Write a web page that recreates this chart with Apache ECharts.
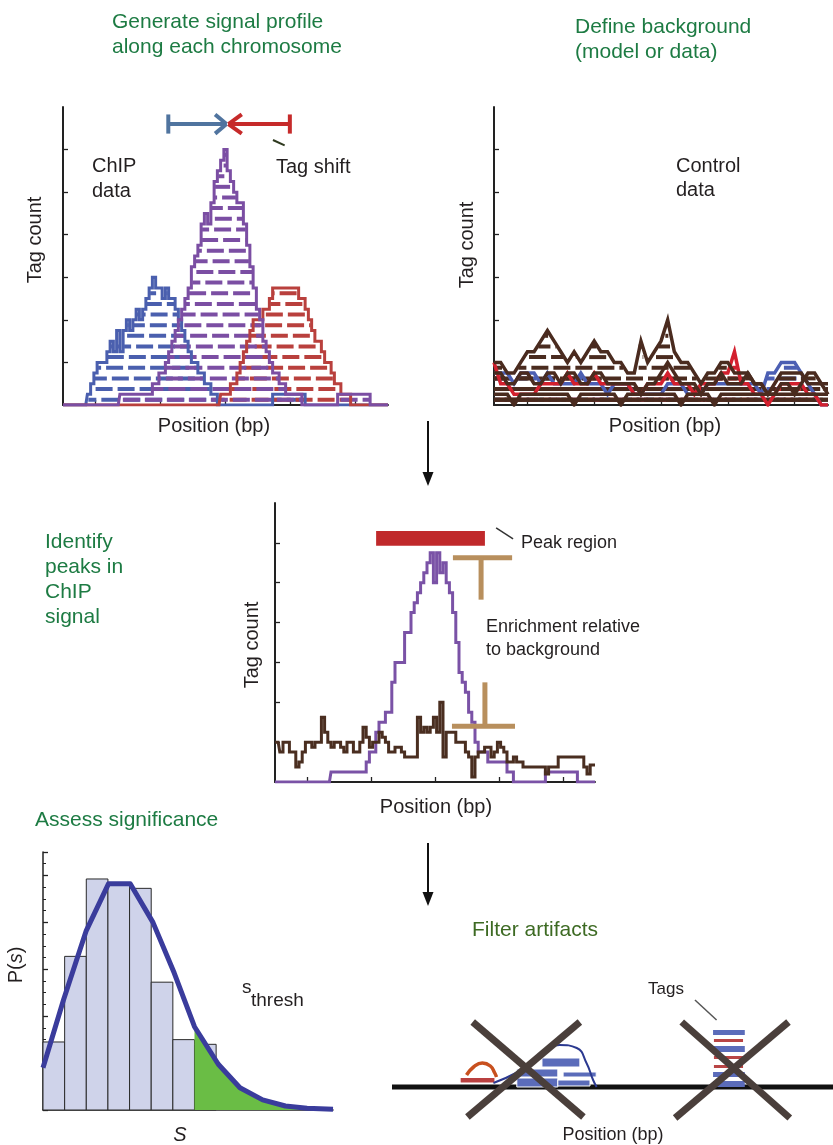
<!DOCTYPE html>
<html><head><meta charset="utf-8">
<script src="https://cdn.jsdelivr.net/npm/echarts@6/dist/echarts.min.js"></script>
<style>html,body{margin:0;padding:0;background:#fff}#c{width:833px;height:1145px}</style>
</head><body><div id="c"></div>
<script>
// ---------------- DATA ----------------
// Panel 1: ChIP tag profiles (tag count at positions 0..100)
const chipBlue = [0,0,0,0,0,0, 0,0,1,2,3,4,4,4,5,6, 5,7,5,7,8,7,8,9,8,9, 10,11,12,11,11,10,11,10,10,9, 8,7,6,5,4,4,3,3,2,2, 1,1,0,0,0,0,0,0,0,0, 0,0,0,0,0,0,0,0,0,1, 1,1,1,1,1,1,1,1,1,0, 0,0,0,0,0,0,0,0,0,0, 0,0,0,0,0,0,0,0,0,0, 0,0,0,0,0];
const chipPurple = [0,0,0,0,0,0,0,0,0,0,0,0,0,0,0,0,0,0, 1,1,1,1,1,1,1,1,1,1, 2,2,3,3,4,5,6,7,8,9, 10,11,13,14,15,17,18,17,19,21, 22,23,24,22,21,20,19,19,17,15, 13,11,9,8,6,5,4,3,3,2, 2,1,1,1,1,1,0,0,0,0, 0,0,0,0,0,0,0, 1,1,1,1,1,1,1,1,1,1, 0,0,0,0,0,0];
const chipRed = [0,0,0,0,0,0,0,0,0,0,0,0,0,0,0,0,0,0,0,0,0,0,0,0,0,0,0,0,0,0,0,0,0,0,0,0,0,0,0,0,0,0,0,0,0,0,0,0, 0,1,1,1,2,2,3,4,5,6, 7,8,8,8,9,9,10,11,11,11, 11,11,11,11,11,10,10,9,8,7, 6,6,5,4,4,3,2,2,1,1, 1,0,0,0,0,0,0,0,0,0,0,0,0];
// Panel 2: control profiles (positions 0,2,...,100)
const ctrlBrownA = [4,4,3,3,4,5,5,6,7,6, 5,4,5,4,5,6,5,5,4,4, 3,3,6,4,5,6,8,5,4,4, 3,2,3,3,4,4,3,3,3,2, 2,1,2,3,3,3,3,2,2,2, 2];
const ctrlBrownB = [3,3,2,2,3,3,2,2,3,3, 2,3,3,2,2,3,3,2,2,2, 2,2,1,2,2,3,4,3,2,2, 2,1,2,2,3,2,2,2,3,2, 2,1,1,2,2,1,2,3,3,2, 1];
const ctrlBrownC = [1,1,1,0,1,1,1,1,1,1, 1,1,0,1,1,1,1,1,1,0, 1,1,1,1,1,1,1,1,0,1, 1,1,1,0,1,1,1,1,1,1, 1,1,1,1,1,1,1,1,1,1, 1];
const ctrlRed = [4,2,2,1,1,1,1,2,2,2, 2,3,2,2,2,3,2,2,2,2, 2,1,1,2,2,2,3,2,2,2, 1,2,2,2,3,3,5,2,2,1, 1,0,1,2,2,2,2,1,1,0, 0];
const ctrlBlue = [3,3,3,2,3,3,3,2,3,2, 2,2,2,3,2,2,2,1,2,2, 2,1,1,1,1,1,2,2,2,1, 1,1,2,2,2,2,2,2,2,2, 1,3,3,4,4,4,3,2,1,0, 0];
// Panel 3: peak identification (positions 0..100)
const peakChip = [0,0,0,0,0,0,0,0,0,0,0,0,0,0,0,0,0,0, 1,1,1,1,1,1,1,1,1,1, 1,2,3,3,5,6,6,7,7,10, 12,12,12,15,15,17,18,19,20,21, 22,23,20,23,21,22,20,19,17,14, 11,10,9,7,6,4,3,3,3,2, 2,2,2,2,2,1,1,0,0,0, 0,0,0,0,0,0,0, 1,1,1,1,1,1,1,1,1,1, 0,0,0,0,0,0];
const peakControl = [4,4,3,4,4,3,3,1.5,2,3, 4,4,3.5,4,4,6.5,5,4,3.5,4, 4,3.5,3,4,4,3,3,4,5.5,4.5, 3.5,4,4,5,4.5,4,3,3,3.5,3.5, 3,2.5,2.5,2.5,2.5,6.5,5,5.5,5,5.5, 6.5,5,8,2.5,5,5,5,4,4,4, 3,2.5,0.5,2.5,3,3,3.5,3.5,2.5,3, 4,3.5,3,2,2,2.5,2,2,1.5,1.5, 1.5,1.5,1.5,1.5,1.5,0.8,1.5,1.5,1.5,2.5, 2.5,2.5,2.5,2.5,2.5,2.5,2.5,1.5,0.8,1.7,1.7];
// Panel 4: significance histogram
const histBins = [5.8, 13.1, 19.7, 19.3, 18.9, 10.9, 6.0, 5.6];
const curveX = [0, 0.95, 2, 3.03, 4.03, 5.08, 6.06, 7.0, 8.1, 9.1, 10.15, 11.2, 12.2, 13.4];
const curveY = [3.6, 9.4, 15.3, 19.3, 19.3, 16, 11.7, 7.1, 3.9, 1.9, 0.86, 0.34, 0.15, 0.06];
const threshIndex = 7;
// Tick positions
const posTicks = [10, 30, 50, 70, 90];
const countTicks = [4, 8, 12, 16, 20, 24];
const histXTicks = [0.5,1.5,2.5,3.5,4.5,5.5,6.5,7.5,8.5,9.5,10.5,11.5,12.5];
// Annotations (data coordinates)
const tagShiftBlue = [[32.4,26.4,50.3,26.4],[32.4,27.3,32.4,25.5],[46.8,27.3,50.3,26.4],[46.8,25.5,50.3,26.4]];
const tagShiftRed = [[50.9,26.4,69.8,26.4],[69.8,27.3,69.8,25.5],[55,27.3,50.9,26.4],[55,25.5,50.9,26.4]];
const tagShiftLeader = [[64.6,24.9,68.2,24.4]];
const peakRegion = [[31.6,23.7,65.6,25.2]];
const peakLeader = [[69.1,25.5,74.4,24.4]];
const enrichTop = [[55.6,22.5,74.1,22.5],[64.4,22.5,64.4,18.3]];
const enrichBottom = [[55.3,5.6,75,5.6],[65.6,10.0,65.6,5.6]];
// Panel 5: filter artifacts schematic
const genomeLine = [[0,0,100,0]];
const strandTagRed = [[15.4,0.37,23.4,0.97]];
const strandCurveRed = [[16.9,1.2],[18.5,2.0],[20.5,2.4],[22.3,2.1],[23.3,1.4],[23.7,1.0]];
const strandCurveBlue = [[23,0.4],[28.1,1.4],[33,2.8],[38,4.2],[41.9,3.9],[44.1,2.4],[45.6,0.7],[46.4,0]];
const strandTagsBlue = [[34,2.0,42.6,2.9],[28.3,1.0,37.6,1.8],[38.8,1.0,46.3,1.5],[28.3,0,37.6,0.9],[37.6,0.1,44.9,0.7]];
const stackBlue = [[72.8,5.2,80,5.7],[72.8,3.5,80,4.1],[72.8,1.0,80,1.5],[72.8,0,80,0.6]];
const stackRed = [[73,4.5,79.6,4.8],[73,2.8,79.6,3.1],[73,1.9,79.6,2.2]];
const crosses = [[18.3,6.5,43.4,-3.0],[42.6,6.5,17.1,-3.0],[65.7,6.5,90.2,-3.1],[89.9,6.5,64.2,-3.1]];
const tagsLeader = [[68.7,8.7,73.6,6.7]];

// ---------------- HELPERS ----------------
const FF = '"Liberation Sans", Arial, Helvetica, sans-serif';
const C_TXT = '#231f20';
function tagRows(vals, step) {
  const rows = [];
  const maxV = Math.max(...vals);
  for (let k = 1; k <= Math.floor(maxV); k++) {
    let start = -1;
    for (let i = 0; i <= vals.length; i++) {
      const on = i < vals.length && vals[i] >= k;
      if (on && start < 0) start = i;
      if (!on && start >= 0) {
        rows.push([Math.max(0, start*step - step/2 + 0.3), Math.min(100, (i-1)*step + step/2 - 0.3), k - 0.5, k]);
        start = -1;
      }
    }
  }
  return rows;
}
function tagSeries(rows, color, gi, z, phase) {
  return {type:'custom', xAxisIndex:gi, yAxisIndex:gi, data:rows, z:z, silent:true, animation:false,
    encode:{x:[0,1], y:2},
    renderItem:(p, api) => {
      const a = api.coord([api.value(0), api.value(2)]);
      const b = api.coord([api.value(1), api.value(2)]);
      const k = api.value(3);
      return {type:'line', shape:{x1:a[0], y1:a[1], x2:b[0], y2:b[1]},
        style:{stroke:color, lineWidth:4, lineDash:[17,5], lineDashOffset:((k*9 + phase) % 22)}};
    }};
}
function segs(data, color, width, gi, z, cap) {
  return {type:'custom', xAxisIndex:gi, yAxisIndex:gi, data:data, z:z, silent:true, animation:false, clip:false,
    encode:{x:[0,2], y:[1,3]},
    renderItem:(p, api) => {
      const a = api.coord([api.value(0), api.value(1)]);
      const b = api.coord([api.value(2), api.value(3)]);
      return {type:'line', shape:{x1:a[0], y1:a[1], x2:b[0], y2:b[1]},
        style:{stroke:color, lineWidth:width, lineCap:cap || 'butt'}};
    }};
}
function rects(data, fill, stroke, lw, gi, z) {
  return {type:'custom', xAxisIndex:gi, yAxisIndex:gi, data:data, z:z, silent:true, animation:false, clip:false,
    encode:{x:[0,2], y:[1,3]},
    renderItem:(p, api) => {
      const a = api.coord([api.value(0), api.value(3)]);
      const b = api.coord([api.value(2), api.value(1)]);
      return {type:'rect', shape:{x:a[0], y:a[1], width:b[0]-a[0], height:b[1]-a[1]},
        style:{fill:fill, stroke:stroke || null, lineWidth:lw || 0}};
    }};
}
function profile(vals, step, color, width, gi, z, stepMode) {
  return {type:'line', xAxisIndex:gi, yAxisIndex:gi, data:vals.map((v,i)=>[i*step, v]),
    step:stepMode === undefined ? 'middle' : stepMode, showSymbol:false, symbol:'none', silent:true, animation:false, z:z,
    lineStyle:{color:color, width:width, join:'miter'}};
}
function axisPair(gi, xmax, ymax, xt, yt, opts) {
  opts = opts || {};
  const line = {show:true, onZero:false, lineStyle:{color:'#222', width:opts.lw || 2}};
  const x = {gridIndex:gi, type:'value', min:0, max:xmax, axisLine:line,
    axisTick:{show:true, inside:true, length:opts.xtl || 5, customValues:xt, lineStyle:{color:'#222', width:1.3}},
    axisLabel:{show:false}, splitLine:{show:false}};
  const y = {gridIndex:gi, type:'value', min:0, max:ymax, axisLine:line,
    axisTick:{show:true, inside:true, length:5, lineStyle:{color:'#222', width:1.3}},
    axisLabel:{show:false}, splitLine:{show:false}};
  if (yt) y.axisTick.customValues = yt; else y.interval = opts.yint;
  if (opts.minor) { y.interval = opts.yint; y.minorTick = {show:true, splitNumber:4, length:3, lineStyle:{color:'#222', width:1}}; }
  return [x, y];
}
function T(text, x, y, size, opts) {
  opts = opts || {};
  return {type:'text', x:x, y:y, rotation:opts.rot || 0, z:100, silent:true,
    style:{text:text, fill:opts.color || C_TXT, font:(opts.italic ? 'italic ' : '') + size + 'px ' + FF,
      textAlign:opts.align || 'left', textVerticalAlign:'middle', rich:opts.rich}};
}

// ---------------- CHART ----------------
const C_BLUE = '#4a5fae', C_PURPLE = '#7b4ea3', C_RED = '#b9403d';
const C_BROWN = '#4a2b1f', C_CRED = '#d3202e', C_CBLUE = '#4c5fb3';
const GREEN = '#1d7b43';

const a0 = axisPair(0, 100, 28, posTicks, countTicks);
const a1 = axisPair(1, 100, 28, posTicks, countTicks);
const a2 = axisPair(2, 100, 28, posTicks, countTicks);
const a3 = axisPair(3, 13.4, 22, histXTicks, null, {lw:1.5, yint:4, minor:true, xtl:3});
const a4x = {gridIndex:4, type:'value', min:0, max:100, show:false};
const a4y = {gridIndex:4, type:'value', min:-4, max:11, show:false};

const series = [
  // Panel 1
  tagSeries(tagRows(chipBlue, 1), C_BLUE, 0, 2, 0),
  tagSeries(tagRows(chipRed, 1), C_RED, 0, 2, 5),
  tagSeries(tagRows(chipPurple, 1), C_PURPLE, 0, 2, 11),
  profile(chipBlue, 1, C_BLUE, 3, 0, 3),
  profile(chipRed, 1, C_RED, 3, 0, 3),
  profile(chipPurple, 1, C_PURPLE, 3, 0, 4),
  segs(tagShiftBlue, '#50749f', 4, 0, 5, 'butt'),
  segs(tagShiftRed, '#c62a2a', 4, 0, 5, 'butt'),
  segs(tagShiftLeader, '#2f3a1f', 2, 0, 5),
  // Panel 2
  tagSeries(tagRows(ctrlBlue, 2), C_CBLUE, 1, 2, 3),
  tagSeries(tagRows(ctrlRed, 2), C_CRED, 1, 2, 8),
  tagSeries(tagRows(ctrlBrownC, 2), C_BROWN, 1, 2, 14),
  tagSeries(tagRows(ctrlBrownB, 2), C_BROWN, 1, 2, 2),
  tagSeries(tagRows(ctrlBrownA, 2), C_BROWN, 1, 2, 17),
  profile(ctrlBlue, 2, C_CBLUE, 3.5, 1, 3, false),
  profile(ctrlRed, 2, C_CRED, 3.5, 1, 3, false),
  profile(ctrlBrownC, 2, C_BROWN, 3.5, 1, 4, false),
  profile(ctrlBrownB, 2, C_BROWN, 3.5, 1, 4, false),
  profile(ctrlBrownA, 2, C_BROWN, 3.5, 1, 4, false),
  // Panel 3
  profile(peakChip, 1, '#7a52a6', 3, 2, 3),
  profile(peakControl, 1, '#4a2e20', 3, 2, 4),
  rects(peakRegion, '#c0292b', null, 0, 2, 5),
  segs(peakLeader, '#333', 1.5, 2, 5),
  segs(enrichTop, '#b88f5d', 5, 2, 5),
  segs(enrichBottom, '#b88f5d', 5, 2, 5),
  // Panel 4
  rects(histBins.map((v,i)=>[i,0,i+1,v]), '#cfd3ea', '#2a2a2a', 1, 3, 2),
  {type:'line', xAxisIndex:3, yAxisIndex:3, data:curveX.map((x,i)=>[x,curveY[i]]).slice(threshIndex),
    showSymbol:false, symbol:'none', silent:true, animation:false, z:3,
    lineStyle:{width:0, color:'#6abd45'}, areaStyle:{color:'#6abd45', opacity:1}},
  {type:'line', xAxisIndex:3, yAxisIndex:3, data:curveX.map((x,i)=>[x,curveY[i]]),
    showSymbol:false, symbol:'none', silent:true, animation:false, z:4, clip:false,
    lineStyle:{width:5, color:'#3a3c9c', join:'round'}},
  // Panel 5
  segs(genomeLine, '#111', 5, 4, 2),
  rects(strandTagRed, '#b94040', '#ffffff', 1.5, 4, 3),
  {type:'line', xAxisIndex:4, yAxisIndex:4, data:strandCurveRed, smooth:true, showSymbol:false, symbol:'none',
    silent:true, animation:false, z:3, lineStyle:{color:'#c8501e', width:3.5}},
  {type:'line', xAxisIndex:4, yAxisIndex:4, data:strandCurveBlue, smooth:true, showSymbol:false, symbol:'none',
    silent:true, animation:false, z:3, lineStyle:{color:'#2b3990', width:2}},
  rects(strandTagsBlue, '#5b6cba', '#ffffff', 1, 4, 3),
  rects(stackBlue, '#5b6cba', null, 0, 4, 3),
  rects(stackRed, '#b94545', null, 0, 4, 3),
  segs(tagsLeader, '#555', 1.5, 4, 3),
  segs(crosses, '#4a3f3b', 7, 4, 6)
];

const arrows = [
  {type:'line', shape:{x1:428, y1:421, x2:428, y2:476}, style:{stroke:'#111', lineWidth:2}, z:100},
  {type:'polygon', shape:{points:[[422.5,472],[433.5,472],[428,486]]}, style:{fill:'#111'}, z:100},
  {type:'line', shape:{x1:428, y1:843, x2:428, y2:895}, style:{stroke:'#111', lineWidth:2}, z:100},
  {type:'polygon', shape:{points:[[422.5,892],[433.5,892],[428,906]]}, style:{fill:'#111'}, z:100}
];

const texts = [
  T('Generate signal profile', 112, 22, 21, {color:GREEN}),
  T('along each chromosome', 112, 47, 21, {color:GREEN}),
  T('Define background', 575, 27, 21, {color:GREEN}),
  T('(model or data)', 575, 52, 21, {color:GREEN}),
  T('ChIP', 92, 166, 20),
  T('data', 92, 191, 20),
  T('Tag shift', 276, 167, 20),
  T('Control', 676, 166, 20),
  T('data', 676, 190, 20),
  T('Tag count', 35, 240, 20, {rot:Math.PI/2, align:'center'}),
  T('Tag count', 467, 245, 20, {rot:Math.PI/2, align:'center'}),
  T('Tag count', 252, 645, 20, {rot:Math.PI/2, align:'center'}),
  T('Position (bp)', 214, 426, 20, {align:'center'}),
  T('Position (bp)', 665, 426, 20, {align:'center'}),
  T('Position (bp)', 436, 807, 20, {align:'center'}),
  T('Identify', 45, 542, 21, {color:GREEN}),
  T('peaks in', 45, 567, 21, {color:GREEN}),
  T('ChIP', 45, 592, 21, {color:GREEN}),
  T('signal', 45, 617, 21, {color:GREEN}),
  T('Peak region', 521, 543, 18),
  T('Enrichment relative', 486, 627, 18),
  T('to background', 486, 650, 18),
  T('Assess significance', 35, 820, 21, {color:GREEN}),
  T('{n|P(}{i|s}{n|)}', 16, 965, 20, {rot:Math.PI/2, align:'center',
     rich:{n:{font:'20px ' + FF, fill:C_TXT}, i:{font:'italic 20px ' + FF, fill:C_TXT}}}),
  T('s', 242, 988, 19),
  T('thresh', 251, 1001, 19),
  T('S', 180, 1135, 20, {italic:true, align:'center'}),
  T('Filter artifacts', 472, 930, 21, {color:'#3d6a23'}),
  T('Tags', 648, 989, 17),
  T('Position (bp)', 613, 1135, 18, {align:'center'})
];

const option = {
  backgroundColor:'#ffffff',
  animation:false,
  grid:[
    {left:63, top:107, width:325, height:298},
    {left:494, top:107, width:334, height:298},
    {left:275, top:503, width:320, height:279},
    {left:43, top:852, width:290, height:258},
    {left:392, top:977, width:441, height:150}
  ],
  xAxis:[a0[0], a1[0], a2[0], a3[0], a4x],
  yAxis:[a0[1], a1[1], a2[1], a3[1], a4y],
  series:series,
  graphic:[...arrows, ...texts]
};
const chart = echarts.init(document.getElementById('c'), null, {renderer:'canvas', width:833, height:1145});
chart.setOption(option);
</script></body></html>
